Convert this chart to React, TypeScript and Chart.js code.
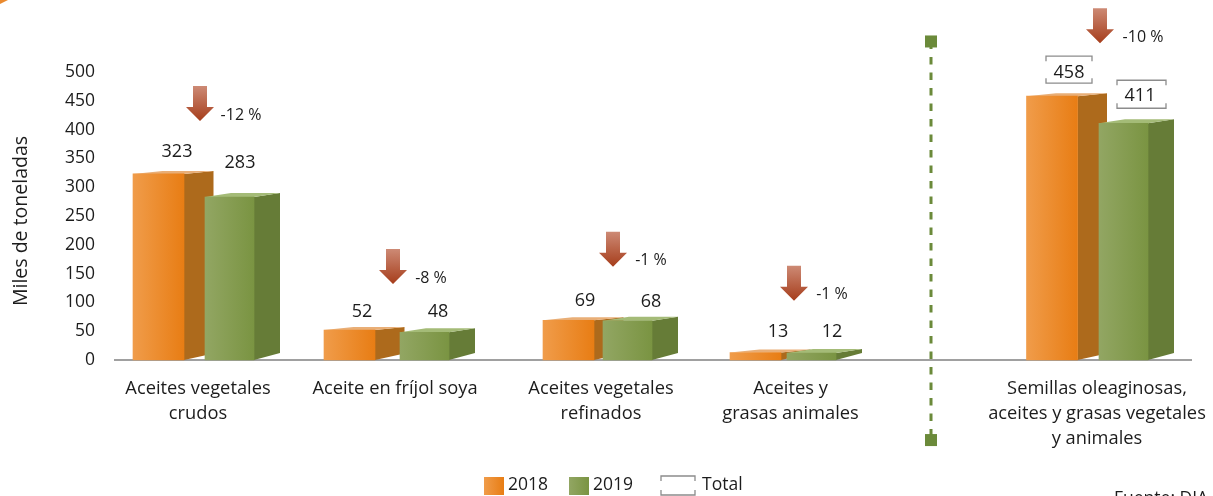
import React, { useEffect, useRef } from "react";
import { Chart, registerables } from "chart.js";

Chart.register(...registerables);

const categories = [
  ["Aceites vegetales", "crudos"],
  ["Aceite en fríjol soya"],
  ["Aceites vegetales", "refinados"],
  ["Aceites y", "grasas animales"],
  ["Semillas oleaginosas,", "aceites y grasas vegetales", "y animales"],
];
const values2018 = [323, 52, 69, 13, 458];
const values2019 = [283, 48, 68, 12, 411];
const changes = ["-12 %", "-8 %", "-1 %", "-1 %", "-10 %"];
const yTicks = [0, 50, 100, 150, 200, 250, 300, 350, 400, 450, 500];

// Layout on the x scale (its units equal page pixels)
const categoryX = [198, 395, 601, 790.5, 1097];
const x2018 = [158.5, 349.5, 568.5, 755.5, 1052];
const x2019 = [229.5, 424.5, 627.5, 811.5, 1123.5];
const arrowX = [200, 393, 613, 794, 1100];
const changeX = [241, 431, 651, 832, 1143];
// Tip of the arrows on the y scale
const arrowTip = [415, 132, 162, 103, 550];
const label2018Offset = [22, 18, 19, 21, 23];
const label2019Offset = [34, 20, 19, 21, 27];
const label2018X = [177, 362, 585, 778, 1069];
const label2019X = [240, 438, 651, 832, 1140];
const dividerX = 931;
const dividerY = [553, -139];
const FONT = "'Open Sans'";
const TEXT = "#1c1c1c";

function frontGradient(c: any, from: string, to: string) {
  const { chart, parsed } = c;
  if (!parsed || !chart.scales.x) return to;
  const w = c.dataset.barThickness;
  const xp = chart.scales.x.getPixelForValue(parsed.x);
  if (!Number.isFinite(xp)) return to;
  const g = chart.ctx.createLinearGradient(xp - w / 2, 0, xp + w / 2, 0);
  g.addColorStop(0, from);
  g.addColorStop(1, to);
  return g;
}

const depths: any = {
  "2018": { dx: 29.5, top: 3, bottom: 6.5, side: "#ad6a1c", lid: "#e9ae76" },
  "2019": { dx: 26, top: 4, bottom: 7, side: "#667c37", lid: "#a4bb77" },
};

const bars3d = {
  id: "bars3d",
  beforeDatasetDraw(chart: any, args: any) {
    const meta = args.meta;
    if (meta.type !== "bar") return;
    const d = depths[chart.data.datasets[args.index].label];
    const ctx = chart.ctx;
    ctx.save();
    meta.data.forEach((b: any) => {
      const l = b.x - b.width / 2;
      const r = b.x + b.width / 2;
      ctx.fillStyle = d.side;
      ctx.beginPath();
      ctx.moveTo(r, b.y);
      ctx.lineTo(r + d.dx, b.y - d.top);
      ctx.lineTo(r + d.dx, Math.max(b.base - d.bottom, b.y - d.top));
      ctx.lineTo(r, b.base);
      ctx.closePath();
      ctx.fill();
      ctx.fillStyle = d.lid;
      ctx.beginPath();
      ctx.moveTo(l, b.y);
      ctx.lineTo(l + d.dx, b.y - d.top);
      ctx.lineTo(r + d.dx, b.y - d.top);
      ctx.lineTo(r, b.y);
      ctx.closePath();
      ctx.fill();
    });
    ctx.restore();
  },
};

function bracket(ctx: any, x: number, y: number, w: number, h: number) {
  ctx.strokeStyle = "#8c8c8c";
  ctx.lineWidth = 1.3;
  ctx.beginPath();
  ctx.moveTo(x, y + 5);
  ctx.lineTo(x, y);
  ctx.lineTo(x + w, y);
  ctx.lineTo(x + w, y + 5);
  ctx.moveTo(x, y + h - 5);
  ctx.lineTo(x, y + h);
  ctx.lineTo(x + w, y + h);
  ctx.lineTo(x + w, y + h - 5);
  ctx.stroke();
}

const annotations = {
  id: "annotations",
  afterDatasetsDraw(chart: any) {
    const { ctx, scales } = chart;
    const X = (v: number) => scales.x.getPixelForValue(v);
    const Y = (v: number) => scales.y.getPixelForValue(v);
    ctx.save();
    // page corner
    ctx.fillStyle = "#ea8a2e";
    ctx.beginPath();
    ctx.moveTo(0, 0);
    ctx.lineTo(8, 0);
    ctx.lineTo(0, 4);
    ctx.closePath();
    ctx.fill();
    // divider end squares, at the points of the line dataset
    ctx.fillStyle = "#6b8a3a";
    chart.getDatasetMeta(0).data.forEach((p: any) => {
      ctx.fillRect(p.x - 6, p.y - 6, 12, 12);
    });
    // value labels
    ctx.font = `18px ${FONT}`;
    ctx.fillStyle = TEXT;
    ctx.textAlign = "center";
    ctx.textBaseline = "middle";
    values2018.forEach((v, i) => {
      ctx.fillText(String(v), X(label2018X[i]), Y(v) - label2018Offset[i]);
    });
    values2019.forEach((v, i) => {
      ctx.fillText(String(v), X(label2019X[i]), Y(v) - label2019Offset[i]);
    });
    // arrows and changes
    changes.forEach((t, i) => {
      const cx = X(arrowX[i]);
      const tip = Y(arrowTip[i]);
      const g = ctx.createLinearGradient(0, tip - 35, 0, tip);
      g.addColorStop(0, "#cd8a75");
      g.addColorStop(1, "#a63d1b");
      ctx.fillStyle = g;
      ctx.beginPath();
      ctx.moveTo(cx - 7, tip - 35);
      ctx.lineTo(cx + 7, tip - 35);
      ctx.lineTo(cx + 7, tip - 14);
      ctx.lineTo(cx + 14, tip - 14);
      ctx.lineTo(cx, tip);
      ctx.lineTo(cx - 14, tip - 14);
      ctx.lineTo(cx - 7, tip - 14);
      ctx.closePath();
      ctx.fill();
      ctx.font = `16px ${FONT}`;
      ctx.fillStyle = TEXT;
      ctx.fillText(t, X(changeX[i]), tip - 6);
    });
    // total brackets
    bracket(ctx, X(1046), Y(values2018[4]) - 40, 46, 27);
    bracket(ctx, X(1117), Y(values2019[4]) - 43, 49, 28);
    // legend
    const legendY = 485;
    ctx.textAlign = "left";
    ctx.font = `17.5px ${FONT}`;
    const swatch = (x: number, from: string, to: string) => {
      const s = ctx.createLinearGradient(x, 0, x + 20, 0);
      s.addColorStop(0, from);
      s.addColorStop(1, to);
      ctx.fillStyle = s;
      ctx.fillRect(x, 477, 20, 18);
    };
    swatch(484, "#f09c4a", "#e87d14");
    swatch(569, "#92a663", "#7a9442");
    bracket(ctx, 661, 476, 34, 19);
    ctx.fillStyle = TEXT;
    ctx.fillText("2018", 508, legendY);
    ctx.fillText("2019", 593, legendY);
    ctx.fillText("Total", 702, legendY);
    ctx.fillText("Fuente: DIA", 1114, 499);
    ctx.restore();
  },
};

export default function App() {
  const ref = useRef<HTMLCanvasElement>(null);
  useEffect(() => {
    const chart = new Chart(ref.current as HTMLCanvasElement, {
      type: "bar",
      plugins: [bars3d, annotations],
      data: {
        datasets: [
          {
            type: "line",
            label: "divisor",
            data: dividerY.map((y) => ({ x: dividerX, y })),
            borderColor: "#6b8a3a",
            borderWidth: 3,
            borderDash: [7.5, 8],
            pointRadius: 0,
            clip: false,
            order: 0,
          },
          {
            label: "2019",
            data: values2019.map((y, i) => ({ x: x2019[i], y })),
            barThickness: 49,
            backgroundColor: (c: any) => frontGradient(c, "#92a663", "#7a9442"),
            order: 1,
            clip: false,
          },
          {
            label: "2018",
            data: values2018.map((y, i) => ({ x: x2018[i], y })),
            barThickness: 51,
            backgroundColor: (c: any) => frontGradient(c, "#f09c4a", "#e87d14"),
            order: 2,
            clip: false,
          },
        ],
      } as any,
      options: {
        responsive: false,
        animation: false,
        events: [],
        layout: { autoPadding: false, padding: { top: 72, right: 22, left: 0, bottom: 0 } },
        datasets: { bar: { grouped: false } },
        plugins: { legend: { display: false }, tooltip: { enabled: false } },
        scales: {
          x: {
            type: "linear",
            min: 115,
            max: 1191,
            offset: false,
            grid: { display: false, drawTicks: false },
            border: { display: true, color: "#a0a0a0", width: 2 },
            afterBuildTicks: (s: any) => {
              s.ticks = categoryX.map((value) => ({ value }));
            },
            afterFit: (s: any) => {
              s.height = 136;
              s.paddingLeft = 0;
              s.paddingRight = 0;
            },
            ticks: {
              autoSkip: false,
              maxRotation: 0,
              minRotation: 0,
              padding: 16,
              color: TEXT,
              font: { family: FONT, size: 18.3, lineHeight: 1.37 },
              callback: (v: any) => categories[categoryX.indexOf(Number(v))] ?? "",
            },
          },
          y: {
            min: 0,
            max: 500,
            grid: { display: false, drawTicks: false },
            border: { display: false },
            afterBuildTicks: (s: any) => {
              s.ticks = yTicks.map((value) => ({ value }));
            },
            afterFit: (s: any) => {
              s.width = 115;
              s.paddingTop = 0;
              s.paddingBottom = 0;
            },
            afterUpdate: (s: any) => {
              if (s.__titleShifted) return;
              s.__titleShifted = true;
              const drawTitle = s.drawTitle.bind(s);
              s.drawTitle = () => {
                s.ctx.save();
                s.ctx.translate(2, 5);
                drawTitle();
                s.ctx.restore();
              };
            },
            title: {
              display: true,
              text: "Miles de toneladas",
              color: TEXT,
              font: { family: FONT, size: 19.5 },
              padding: { top: 8, bottom: 0 },
            },
            ticks: {
              padding: 20,
              color: TEXT,
              font: { family: FONT, size: 17.5 },
            },
          },
        },
      } as any,
    });
    return () => chart.destroy();
  }, []);
  return (
    <div style={{ position: "absolute", left: 0, top: 0, width: 1213, height: 496, overflow: "hidden", background: "#fff" }}>
      <canvas ref={ref} width={1213} height={496} style={{ display: "block" }} />
    </div>
  );
}
